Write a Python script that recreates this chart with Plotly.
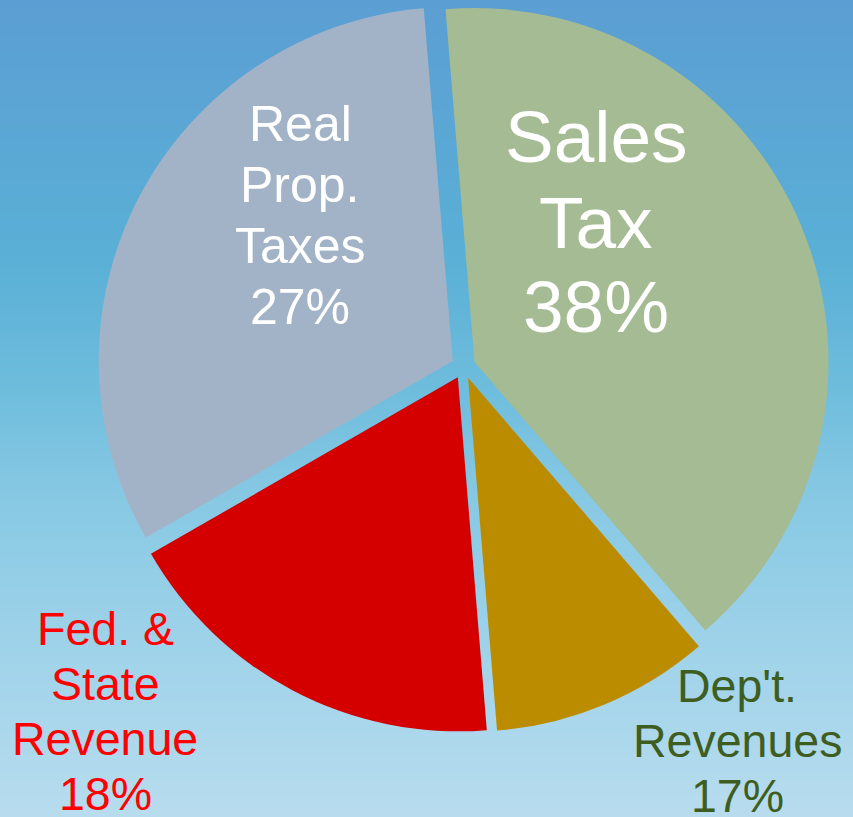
import plotly.graph_objects as go

# ---- data ----
categories = ["Sales Tax", "Dep't. Revenues", "Fed. & State Revenue", "Real Prop. Taxes"]
slice_values = [40, 10, 18, 32]          # angular share of each slice as drawn
pct_labels = ["38%", "17%", "18%", "27%"]  # percentages printed on the chart
label_lines = [
    ["Sales", "Tax"],
    ["Dep't.", "Revenues"],
    ["Fed. &", "State", "Revenue"],
    ["Real", "Prop.", "Taxes"],
]
slice_colors = ["#a4bb93", "#bb8c00", "#d40000", "#a2b3c8"]

W, H = 853, 817
FONT = "Arial, Liberation Sans, sans-serif"

fig = go.Figure()

# ---- gradient background via a smooth heatmap on hidden axes ----
N = 50
bg_stops = [
    (0.0, "#b8dcee"),
    (0.2, "#a0d3ea"),
    (0.4, "#86c8e3"),
    (0.52, "#6fbddd"),
    (0.68, "#5ab0d6"),
    (1.0, "#5b9ed3"),
]
fig.add_trace(go.Heatmap(
    z=[[i / (N - 1)] * 2 for i in range(N)],
    x=[0, 1],
    y=[i / (N - 1) for i in range(N)],
    colorscale=[[p, c] for p, c in bg_stops],
    zmin=0, zmax=1,
    showscale=False, hoverinfo="skip", zsmooth="best",
))

# ---- pie ----
cx, cy, r, pull = 463.4, 366.7, 354.0, 0.034
half = r * (1 + pull)
fig.add_trace(go.Pie(
    labels=categories,
    values=slice_values,
    sort=False,
    direction="clockwise",
    rotation=-4.7,
    pull=[pull] * 4,
    marker=dict(colors=slice_colors, line=dict(width=0)),
    textinfo="none",
    hoverinfo="skip",
    showlegend=False,
    domain=dict(
        x=[(cx - half) / W, (cx + half) / W],
        y=[(H - cy - half) / H, (H - cy + half) / H],
    ),
))

# ---- labels (one annotation per line) ----
label_specs = [
    # x center, first line y, line spacing, font size, color
    (596, 137, 85, 73, "white"),
    (737, 686, 55, 46.5, "#3e5e21"),
    (105, 629, 55, 46.5, "#ff0000"),
    (300, 124, 61, 50, "white"),
]
annotations = []
for lines, pct, (lx, ly, sp, fs, col) in zip(label_lines, pct_labels, label_specs):
    for k, t in enumerate(lines + [pct]):
        annotations.append(dict(
            x=lx / W, y=1 - (ly + k * sp) / H, xref="paper", yref="paper",
            text=t, showarrow=False, xanchor="center", yanchor="middle",
            font=dict(family=FONT, size=fs, color=col),
        ))

fig.update_layout(
    width=W, height=H,
    margin=dict(l=0, r=0, t=0, b=0),
    paper_bgcolor="#8cc9e3",
    plot_bgcolor="rgba(0,0,0,0)",
    xaxis=dict(visible=False, range=[0, 1], domain=[0, 1], fixedrange=True),
    yaxis=dict(visible=False, range=[0, 1], domain=[0, 1], fixedrange=True),
    annotations=annotations,
    hovermode=False,
)

fig.write_html(
    "out.html",
    config={"displayModeBar": False},
    post_script="document.body.style.margin='0px';document.body.style.overflow='hidden';",
)
